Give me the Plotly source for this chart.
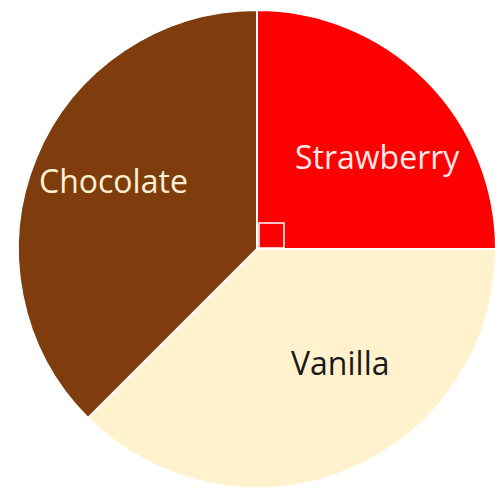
import plotly.graph_objects as go

flavours = ["Strawberry", "Vanilla", "Chocolate"]
shares = [25, 37.5, 37.5]
slice_colors = ["#FF0000", "#FFF2CC", "#7F3C0D"]
label_colors = ["#FFEAEA", "#1A1A1A", "#FFF0D2"]
# label anchor offsets relative to the pie centre, as fractions of radius (right, up)
label_offsets = [(0.505, 0.385), (0.35, -0.475), (-0.60, 0.285)]

W, H = 503, 488
cx, cy, r = 257, 249, 239  # pie centre / radius in pixels (from top-left)

dom_y0 = max(0.0, 1 - (cy + r) / H)
dom_y1 = min(1.0, 1 - (cy - r) / H)

fig = go.Figure(go.Pie(
    labels=flavours,
    values=shares,
    sort=False,
    direction="clockwise",
    rotation=0,
    marker=dict(colors=slice_colors, line=dict(color="white", width=2)),
    textinfo="none",
    showlegend=False,
    hoverinfo="label+percent",
    domain=dict(x=[(cx - r) / W, (cx + r) / W], y=[dom_y0, dom_y1]),
))

for name, col, (ox, oy) in zip(flavours, label_colors, label_offsets):
    fig.add_annotation(text=name, xref="paper", yref="paper",
                       x=(cx + ox * r) / W, y=1 - (cy - oy * r) / H,
                       showarrow=False, xanchor="center", yanchor="middle",
                       font=dict(family="Open Sans", size=32, color=col))

# right-angle marker at the centre of the pie
s = 25
fig.add_shape(type="rect", xref="paper", yref="paper",
              x0=(cx + 2) / W, x1=(cx + 2 + s) / W,
              y0=1 - (cy - 1) / H, y1=1 - (cy - 1 - s) / H,
              line=dict(color="white", width=1.5), fillcolor="rgba(0,0,0,0)")

fig.update_layout(width=W, height=H, margin=dict(l=0, r=0, t=0, b=0),
                  paper_bgcolor="white", plot_bgcolor="white")
fig.write_html("out.html", config={"displayModeBar": False},
               post_script="document.body.style.margin='0';")
